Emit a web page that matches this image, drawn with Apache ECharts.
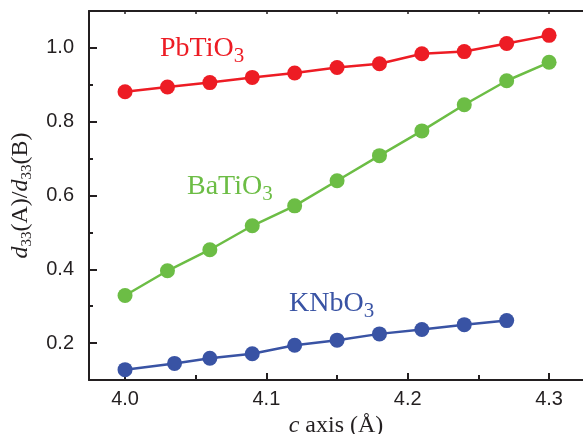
<!DOCTYPE html>
<html>
<head>
<meta charset="utf-8">
<script src="https://cdn.jsdelivr.net/npm/echarts@6/dist/echarts.min.js"></script>
<style>
html,body{margin:0;padding:0;background:#fff;}
#chart{width:583px;height:434px;}
</style>
</head>
<body>
<div id="chart"></div>
<script>
// ---- data ----
const xPbBa = [4.00, 4.03, 4.06, 4.09, 4.12, 4.15, 4.18, 4.21, 4.24, 4.27, 4.30];
const pbTiO3 = [0.881, 0.894, 0.906, 0.920, 0.932, 0.947, 0.957, 0.984, 0.990, 1.012, 1.034];
const baTiO3 = [0.329, 0.396, 0.453, 0.518, 0.572, 0.640, 0.708, 0.775, 0.846, 0.911, 0.961];
const xKn = [4.00, 4.035, 4.06, 4.09, 4.12, 4.15, 4.18, 4.21, 4.24, 4.27];
const knbO3 = [0.128, 0.145, 0.159, 0.171, 0.194, 0.208, 0.225, 0.237, 0.250, 0.261];
const xMajorTicks = [4.0, 4.1, 4.2, 4.3];
const xMinorTicks = [4.05, 4.15, 4.25];
const yMajorTicks = [0.2, 0.4, 0.6, 0.8, 1.0];
const yMinorTicks = [0.3, 0.5, 0.7, 0.9];

const zip = (xs, ys) => xs.map((x, i) => [x, ys[i]]);
const AX = '#231f20';
const RED = '#ed1c24', GREEN = '#6cbd45', BLUE = '#3953a4';
const SERIF = '"Liberation Serif", "Times New Roman", serif';
const SANS = '"Liberation Sans", Arial, sans-serif';
const XMIN = 3.9745, XMAX = 4.324, YMIN = 0.1, YMAX = 1.1;

function subLabel(main, color, x, y) {
  return {
    type: 'text', left: x, top: y, z: 10,
    style: {
      text: '{m|' + main + '}{s|3}',
      rich: {
        m: {fontFamily: SERIF, fontSize: 28, fill: color, color: color},
        s: {fontFamily: SERIF, fontSize: 21, fill: color, color: color, verticalAlign: 'top', padding: [14, 0, 0, 0]}
      }
    }
  };
}

const chart = echarts.init(document.getElementById('chart'));
const line = (name, data, color) => ({
  name, type: 'line', data, xAxisIndex: 0, yAxisIndex: 0,
  symbol: 'circle', symbolSize: 15,
  lineStyle: {color, width: 2.5},
  itemStyle: {color, borderWidth: 0},
  emphasis: {disabled: true},
  animation: false
});

chart.setOption({
  animation: false,
  grid: {left: 89, right: 0, top: 11, bottom: 54, containLabel: false, outerBoundsMode: 'none'},
  xAxis: [
    {
      type: 'value', min: XMIN, max: XMAX, position: 'bottom',
      axisLine: {show: true, lineStyle: {color: AX, width: 2}},
      axisTick: {show: true, inside: true, length: 7, customValues: xMajorTicks, lineStyle: {color: AX, width: 2}},
      axisLabel: {show: true, customValues: xMajorTicks, formatter: v => v.toFixed(1), fontFamily: SANS, fontSize: 20, color: AX, margin: 9},
      splitLine: {show: false},
      name: '{i|c} axis (Å)', nameLocation: 'middle', nameGap: 28,
      nameTextStyle: {fontFamily: SERIF, fontSize: 24, color: AX,
        rich: {i: {fontFamily: SERIF, fontStyle: 'italic', fontSize: 24, color: AX}}}
    },
    {
      type: 'value', min: XMIN, max: XMAX, position: 'bottom',
      axisLine: {show: false},
      axisTick: {show: true, inside: true, length: 5, customValues: xMinorTicks, lineStyle: {color: AX, width: 2}},
      axisLabel: {show: false}, splitLine: {show: false}
    },
    {
      type: 'value', min: XMIN, max: XMAX, position: 'top',
      axisLine: {show: true, lineStyle: {color: AX, width: 2}},
      axisTick: {show: true, inside: true, length: 3, customValues: xMajorTicks.concat(xMinorTicks), lineStyle: {color: AX, width: 1.5}},
      axisLabel: {show: false}, splitLine: {show: false}
    }
  ],
  yAxis: [
    {
      type: 'value', min: YMIN, max: YMAX, position: 'left',
      axisLine: {show: true, lineStyle: {color: AX, width: 2}},
      axisTick: {show: true, inside: true, length: 8, customValues: yMajorTicks, lineStyle: {color: AX, width: 2}},
      axisLabel: {show: true, customValues: yMajorTicks, formatter: v => v.toFixed(1), fontFamily: SANS, fontSize: 20, color: AX, margin: 15},
      splitLine: {show: false},
      name: '{i|d}{s|33}(A)/{i|d}{s|33}(B)', nameLocation: 'middle', nameGap: 54,
      nameTextStyle: {fontFamily: SERIF, fontSize: 24, color: AX,
        rich: {
          i: {fontFamily: SERIF, fontStyle: 'italic', fontSize: 24, color: AX},
          s: {fontFamily: SERIF, fontSize: 15, color: AX, verticalAlign: 'top', padding: [14, 0, 0, 0]}
        }}
    },
    {
      type: 'value', min: YMIN, max: YMAX, position: 'left',
      axisLine: {show: false},
      axisTick: {show: true, inside: true, length: 4, customValues: yMinorTicks, lineStyle: {color: AX, width: 2}},
      axisLabel: {show: false}, splitLine: {show: false}
    }
  ],
  series: [
    line('PbTiO3', zip(xPbBa, pbTiO3), RED),
    line('BaTiO3', zip(xPbBa, baTiO3), GREEN),
    line('KNbO3', zip(xKn, knbO3), BLUE)
  ],
  graphic: [
    subLabel('PbTiO', RED, 160, 35),
    subLabel('BaTiO', GREEN, 187, 173),
    subLabel('KNbO', BLUE, 289, 290)
  ]
});
</script>
</body>
</html>
